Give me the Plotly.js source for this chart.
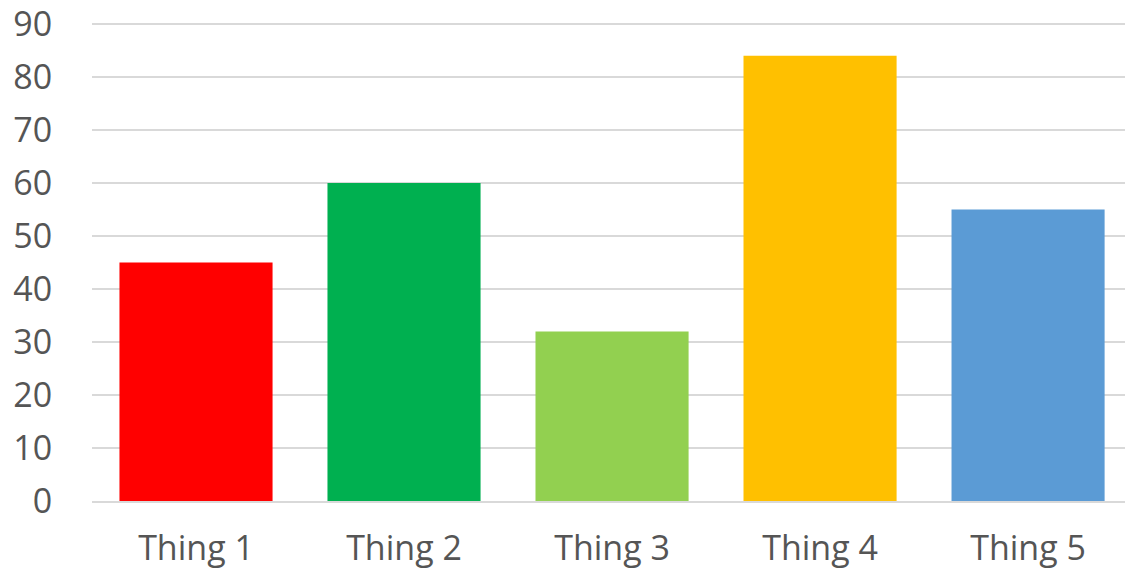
<!DOCTYPE html>
<html>
<head>
<meta charset="utf-8">
<script src="https://cdn.plot.ly/plotly-3.0.1.min.js"></script>
<style>html,body{margin:0;padding:0;background:#fff;}#chart{width:1125px;height:573px;}</style>
</head>
<body>
<div id="chart"></div>
<script>
const categories = ["Thing 1", "Thing 2", "Thing 3", "Thing 4", "Thing 5"];
const values = [45, 60, 32, 84, 55];
const barColors = ["#FF0000", "#00B050", "#92D050", "#FFC000", "#5B9BD5"];
const yTicks = [0, 10, 20, 30, 40, 50, 60, 70, 80, 90];

const trace = {
  type: "bar",
  x: categories,
  y: values,
  marker: { color: barColors, line: { width: 0 } },
  hoverinfo: "x+y"
};

const layout = {
  width: 1125,
  height: 573,
  margin: { l: 92, r: 0, t: 23, b: 72 },
  paper_bgcolor: "#ffffff",
  plot_bgcolor: "#ffffff",
  bargap: 0.264,
  showlegend: false,
  font: { family: "Open Sans, sans-serif", color: "#595959", size: 32 },
  xaxis: {
    type: "category",
    range: [-0.5, 4.466],
    showgrid: false,
    zeroline: false,
    showline: true,
    linecolor: "#d9d9d9",
    linewidth: 2,
    ticks: "outside",
    ticklen: 16,
    tickcolor: "rgba(0,0,0,0)",
    ticklabeloverflow: "allow",
    tickfont: { size: 34, color: "#555555", family: "Open Sans, sans-serif" }
  },
  yaxis: {
    range: [0, 90.2],
    tickvals: yTicks,
    ticktext: yTicks.map(String),
    showgrid: true,
    gridcolor: "#d9d9d9",
    gridwidth: 2,
    zeroline: false,
    showline: false,
    ticks: "outside",
    ticklen: 32,
    tickcolor: "rgba(0,0,0,0)",
    ticklabeloverflow: "allow",
    tickfont: { size: 34, color: "#555555", family: "Open Sans, sans-serif" }
  }
};

Plotly.newPlot("chart", [trace], layout, { displayModeBar: false, staticPlot: true });
</script>
</body>
</html>
